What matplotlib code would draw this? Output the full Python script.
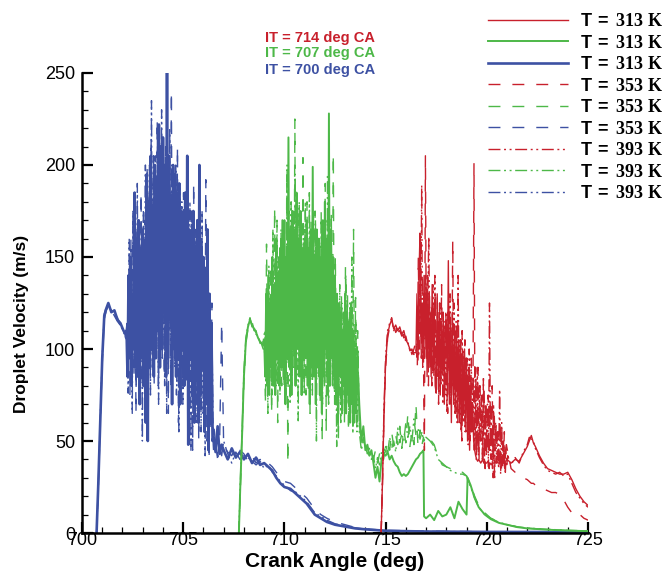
import numpy as np
import matplotlib
matplotlib.use("Agg")
import matplotlib.pyplot as plt

plt.rcParams['font.family'] = ['Liberation Sans', 'DejaVu Sans']
plt.rcParams['mathtext.fontset'] = 'custom'
plt.rcParams['mathtext.sf'] = 'Liberation Sans:bold'
plt.rcParams['mathtext.rm'] = 'Liberation Serif:bold'
plt.rcParams['lines.scale_dashes'] = False

# ---------------- data ----------------
temps = ["313", "353", "393"]

# Blue: IT = 700 deg CA
blue_rise_x = [700.72, 700.8, 700.9, 701.0, 701.1, 701.2, 701.3, 701.45, 701.6, 701.75, 701.9, 702.05, 702.15]
blue_rise_313 = [0, 25, 60, 95, 118, 122, 125, 120, 121, 116, 114, 110, 108]
blue_rise_353 = [0, 22, 58, 92, 116, 121, 123, 119, 119, 117, 112, 111, 106]
blue_rise_393 = [0, 24, 62, 96, 119, 123, 124, 121, 118, 115, 113, 109, 107]
blue_block_start = 702.2
blue_block_313 = [110, 85, 140, 95, 150, 80, 130, 100, 185, 90,
                  160, 85, 170, 70, 150, 95, 165, 80, 155, 60,
                  195, 50, 180, 90, 205, 100, 175, 85, 200, 95,
                  190, 110, 222, 90, 210, 100, 215, 120, 200, 85,
                  250, 95, 205, 120, 180, 70, 200, 100, 195, 85,
                  185, 95, 190, 70, 175, 100, 170, 80, 185, 90,
                  205, 48, 165, 95, 160, 75, 175, 60, 150, 85,
                  170, 60, 200, 75, 155, 90, 150, 55, 140, 70,
                  165, 45, 130, 60, 110, 50]
blue_block_353 = [105, 90, 145, 75, 160, 100, 175, 85, 140, 65,
                  165, 100, 150, 75, 185, 80, 160, 105, 170, 90,
                  200, 70, 185, 110, 215, 95, 190, 80, 205, 120,
                  225, 80, 200, 105, 190, 95, 215, 85, 205, 110,
                  210, 65, 195, 110, 240, 85, 180, 95, 200, 75,
                  210, 60, 185, 90, 170, 80, 185, 95, 175, 80,
                  185, 80, 160, 100, 175, 45, 190, 90, 165, 70,
                  165, 50, 180, 70, 160, 85, 145, 60, 192, 50,
                  150, 70, 120, 55, 125, 50]
blue_block_393 = [115, 76, 160, 100, 150, 65, 175, 90, 155, 80,
                  190, 90, 145, 80, 170, 50, 175, 95, 200, 85,
                  185, 110, 200, 75, 235, 90, 205, 95, 190, 100,
                  220, 70, 195, 115, 230, 100, 185, 80, 210, 65,
                  190, 110, 220, 80, 200, 110, 185, 90, 200, 80,
                  165, 55, 190, 95, 180, 70, 160, 95, 180, 85,
                  150, 95, 180, 45, 175, 85, 165, 70, 160, 60,
                  170, 80, 140, 55, 175, 65, 150, 42, 130, 75,
                  140, 42, 110, 58, 100, 48]
blue_tail_x = [706.5, 706.6, 706.7, 706.8, 706.9, 707.0, 707.2, 707.4, 707.6, 707.8, 708.0, 708.2, 708.4, 708.6,
               708.8, 709.0, 709.2, 709.4, 709.6, 709.8, 710.0, 710.3, 710.6, 710.9, 711.1, 711.3, 711.5, 711.8,
               712.1, 712.5, 713.0, 713.5, 714.0, 715.0, 717.0, 720.0, 725.0]
blue_tail_313 = [52, 44, 58, 43, 48, 45, 40, 46, 41, 44, 40, 43, 38, 41, 37, 38, 36, 34, 30, 27, 25, 24, 21, 18,
                 16, 13, 10, 8, 6, 4.5, 3.5, 2.5, 2, 1.2, 0.8, 0.6, 0.5]
blue_tail_353 = [60, 48, 42, 50, 114, 47, 44, 42, 47, 45, 43, 39, 42, 38, 40, 37, 38, 36, 33, 30, 28, 27, 24, 21,
                 19, 16, 13, 10, 8, 6, 4.5, 3, 2.2, 1.5, 1.0, 0.7, 0.5]
blue_tail_393 = [45, 50, 40, 46, 42, 50, 43, 38, 44, 40, 42, 41, 39, 37, 39, 35, 37, 33, 31, 28, 26, 23, 22, 19,
                 17, 14, 11, 9, 7, 5, 3.8, 2.8, 2.1, 1.3, 0.9, 0.6, 0.5]

# Green: IT = 707 deg CA
green_rise_x = [707.75, 707.82, 707.9, 708.0, 708.1, 708.2, 708.3, 708.4, 708.5, 708.6, 708.7, 708.8, 708.95]
green_rise_313 = [0, 25, 50, 85, 105, 112, 116, 113, 111, 109, 106, 104, 102]
green_rise_353 = [0, 22, 48, 82, 103, 111, 114, 115, 110, 110, 105, 105, 100]
green_rise_393 = [0, 27, 52, 88, 106, 113, 117, 112, 112, 108, 107, 103, 104]
green_block_start = 709.0
green_block_313 = [105, 85, 130, 80, 140, 75, 125, 90, 150, 80,
                   135, 75, 160, 95, 140, 80, 155, 90, 170, 85,
                   170, 70, 150, 95, 215, 90, 165, 75, 175, 100,
                   165, 80, 185, 100, 160, 85, 175, 75, 150, 95,
                   160, 95, 170, 80, 155, 70, 165, 90, 199, 85,
                   150, 70, 165, 90, 160, 75, 150, 65, 170, 85,
                   180, 100, 160, 75, 228, 80, 165, 95, 150, 85,
                   140, 70, 130, 60, 125, 85, 120, 65, 110, 80,
                   130, 65, 120, 75, 115, 60, 125, 70, 110, 60,
                   100, 65, 95]
green_block_353 = [100, 70, 157, 95, 130, 80, 145, 65, 120, 85,
                   177, 85, 145, 60, 150, 90, 135, 80, 160, 95,
                   150, 90, 190, 38, 175, 105, 160, 80, 175, 90,
                   225, 80, 160, 110, 175, 90, 155, 75, 204, 80,
                   165, 75, 180, 95, 155, 65, 170, 85, 160, 100,
                   175, 85, 160, 100, 145, 70, 175, 50, 160, 90,
                   190, 55, 170, 90, 160, 85, 175, 80, 206, 75,
                   151, 70, 125, 50, 115, 90, 130, 70, 120, 60,
                   145, 70, 130, 55, 120, 75, 110, 65, 165, 75,
                   128, 60, 110]
green_block_393 = [110, 80, 125, 65, 145, 95, 130, 75, 165, 100,
                   140, 80, 170, 85, 150, 75, 165, 95, 145, 80,
                   140, 75, 200, 95, 160, 70, 180, 85, 170, 95,
                   195, 90, 150, 61, 180, 100, 170, 80, 160, 75,
                   180, 100, 165, 78, 185, 90, 150, 75, 175, 85,
                   170, 50, 160, 85, 150, 95, 170, 70, 155, 80,
                   160, 85, 195, 70, 165, 95, 150, 80, 140, 70,
                   130, 47, 120, 70, 135, 60, 125, 75, 115, 65,
                   140, 80, 115, 65, 125, 70, 150, 54, 110, 70,
                   115, 55, 100]
green_tail_x = [713.7, 713.8, 713.9, 714.0, 714.1, 714.2, 714.3, 714.4, 714.5, 714.6, 714.7, 714.8, 714.9, 715.0,
                715.1, 715.2, 715.3, 715.4, 715.5, 715.6, 715.7, 715.8, 715.9, 716.0, 716.1, 716.2, 716.3, 716.4,
                716.5, 716.6, 716.7, 716.8, 716.87, 716.9, 717.0, 717.2, 717.4, 717.6, 717.8, 718.0, 718.2, 718.4,
                718.6, 718.8, 719.0, 719.05, 719.2, 719.4, 719.6, 719.9, 720.2, 720.6, 721.0, 721.5, 722.0, 723.0,
                724.0, 725.0]
green_tail_313 = [70, 50, 58, 45, 48, 42, 45, 38, 30, 36, 28, 40, 43, 42, 44, 40, 42, 39, 37, 36, 33, 31, 32, 31,
                  32, 34, 36, 38, 40, 41, 43, 44, 45, 9, 8, 10, 7, 12, 9, 10, 14, 8, 17, 13, 10, 30, 26, 19, 14,
                  10, 7.5, 5.5, 4.5, 3.2, 2.5, 1.8, 1.3, 1.0]
green_tail_353 = [60, 48, 52, 44, 47, 41, 44, 40, 45, 38, 43, 41, 46, 44, 50, 45, 55, 47, 53, 48, 58, 46, 56, 49,
                  65, 47, 55, 48, 70, 47, 56, 48, 52, 50, 53, 51, 48, 41, 37, 36, 35, 34, 33, 33, 31, 30, 26, 20,
                  15, 11, 8, 6, 4.5, 3.3, 2.6, 1.9, 1.4, 1.1]
green_tail_393 = [55, 45, 50, 47, 43, 46, 40, 42, 35, 41, 37, 44, 40, 47, 43, 52, 46, 50, 44, 57, 49, 54, 50, 60,
                  52, 58, 50, 62, 53, 57, 51, 55, 50, 52, 52, 50, 47, 40, 38, 36, 34, 33, 32, 32, 31, 29, 25, 19,
                  14, 10, 8, 5.8, 4.6, 3.4, 2.7, 2.0, 1.5, 1.1]

# Red: IT = 714 deg CA
red_rise_x = [714.78, 714.85, 714.92, 715.0, 715.1, 715.2, 715.3, 715.4, 715.5, 715.6, 715.7, 715.8, 715.9,
              716.0, 716.1, 716.2, 716.3, 716.4]
red_rise_313 = [0, 30, 65, 92, 108, 113, 116, 111, 113, 110, 112, 108, 110, 105, 103, 100, 99, 98]
red_rise_353 = [0, 28, 62, 90, 106, 112, 114, 113, 109, 111, 108, 110, 106, 107, 102, 101, 97, 100]
red_rise_393 = [0, 32, 68, 95, 110, 114, 117, 110, 112, 109, 110, 107, 108, 104, 104, 99, 100, 97]
red_block_start = 716.5
red_block_313 = [98, 130, 94, 140, 163, 100, 125, 95, 140, 100,
                 135, 85, 130, 90, 120, 85, 135, 90, 125, 80,
                 76, 130, 85, 120, 75, 115, 90, 120, 70, 110,
                 115, 80, 148, 70, 110, 60, 120, 75, 105, 70,
                 110, 75, 105, 60, 100, 55, 95, 65, 100, 60,
                 95, 50, 85, 45, 80, 55, 70, 50, 45, 42,
                 40, 39, 40, 39, 38, 39, 40, 38, 39, 38,
                 38, 39, 38, 37, 38, 37, 38, 38, 39, 38,
                 39, 38, 38, 39, 39, 40, 39, 40, 39, 39,
                 40]
red_block_353 = [105, 90, 150, 100, 130, 95, 140, 100, 45, 205,
                 95, 140, 80, 130, 90, 125, 85, 120, 90, 130,
                 90, 120, 70, 125, 80, 135, 85, 110, 75, 120,
                 110, 65, 125, 75, 115, 80, 159, 70, 110, 65,
                 115, 60, 100, 70, 105, 50, 95, 65, 105, 55,
                 95, 60, 90, 50, 85, 55, 80, 201, 45, 85,
                 45, 90, 40, 80, 50, 75, 40, 78, 35, 70,
                 45, 75, 35, 70, 40, 80, 30, 65, 45, 60,
                 40, 55, 35, 60, 33, 50, 38, 55, 33, 48,
                 45]
red_block_393 = [100, 120, 96, 135, 110, 189, 90, 130, 105, 140,
                 95, 125, 161, 100, 120, 80, 135, 85, 140, 90,
                 85, 115, 75, 125, 80, 120, 70, 115, 75, 120,
                 65, 120, 90, 130, 70, 110, 80, 125, 65, 115,
                 60, 140, 65, 105, 55, 110, 60, 100, 55, 95,
                 90, 48, 100, 55, 95, 58, 85, 45, 90, 40,
                 90, 42, 80, 50, 75, 40, 85, 38, 70, 42,
                 70, 36, 125, 45, 65, 35, 70, 29, 60, 38,
                 55, 35, 78, 32, 60, 36, 50, 34, 45, 36,
                 42]
red_tail_x = [721.2, 721.4, 721.6, 721.8, 722.0, 722.1, 722.2, 722.3, 722.4, 722.6, 722.8, 723.0, 723.2, 723.4,
              723.6, 723.8, 724.0, 724.2, 724.4, 724.6, 724.8, 725.0]
red_tail_313 = [38, 40, 39, 43, 47, 50, 53, 49, 47, 42, 38, 35, 34, 33, 32, 32, 33, 29, 24, 20, 17, 15]
red_tail_353 = [35, 33, 32, 30, 29, 28, 27, 27, 26, 25, 24, 23, 22, 22, 21, 18, 14, 11, 9, 10, 8, 7]
red_tail_393 = [37, 41, 38, 44, 48, 52, 51, 50, 46, 41, 37, 34, 33, 32, 33, 31, 32, 27, 22, 19, 16, 14]

annotations = ["IT = 714 deg CA", "IT = 707 deg CA", "IT = 700 deg CA"]

# ---------------- styling ----------------
RED, GREEN, BLUE = '#C8202C', '#4DB848', '#3D51A3'
STEP = 0.05
offsets = {"313": 0.0, "353": 0.017, "393": 0.033}
styles = {"313": dict(linestyle='-'),
          "353": dict(dashes=(8.6, 8.6)),
          "393": dict(dashes=(8.6, 2.6, 1.4, 2.6, 1.4, 2.6))}
solid_lw = {RED: 1.0, GREEN: 1.4, BLUE: 1.9}


def series(rise_x, rise_y, start, block_y, off, tail_x, tail_y):
    bx = [start + off + STEP * i for i in range(len(block_y))]
    return (np.array(list(rise_x) + bx + list(tail_x)),
            np.array(list(rise_y) + list(block_y) + list(tail_y), dtype=float))


groups = [
    (BLUE, blue_rise_x, [blue_rise_313, blue_rise_353, blue_rise_393], blue_block_start,
     [blue_block_313, blue_block_353, blue_block_393], blue_tail_x, [blue_tail_313, blue_tail_353, blue_tail_393]),
    (GREEN, green_rise_x, [green_rise_313, green_rise_353, green_rise_393], green_block_start,
     [green_block_313, green_block_353, green_block_393], green_tail_x, [green_tail_313, green_tail_353, green_tail_393]),
    (RED, red_rise_x, [red_rise_313, red_rise_353, red_rise_393], red_block_start,
     [red_block_313, red_block_353, red_block_393], red_tail_x, [red_tail_313, red_tail_353, red_tail_393]),
]

fig = plt.figure(figsize=(6.72, 5.76), dpi=100)
ax = fig.add_axes([82 / 672, 43 / 576, 506 / 672, 460 / 576])

handles = {}
for color, rx, rys, start, bys, tx, tys in groups:
    for k in [2, 1, 0]:
        t = temps[k]
        x, y = series(rx, rys[k], start, bys[k], offsets[t], tx, tys[k])
        lw = solid_lw[color] if t == "313" else 1.0
        ln, = ax.plot(x, y, color=color, lw=lw, **styles[t])
        handles[(color, t)] = ln

ax.set_xlim(700, 725)
ax.set_ylim(0, 250)
for s in ['top', 'right']:
    ax.spines[s].set_visible(False)
for s in ['left', 'bottom']:
    ax.spines[s].set_linewidth(1.8)
ax.set_xticks(np.arange(700, 726, 5))
ax.set_xticks(np.arange(700, 726, 1), minor=True)
ax.set_yticks(np.arange(0, 251, 50))
ax.set_yticks(np.arange(0, 251, 10), minor=True)
ax.tick_params(which='major', direction='in', length=8, width=1.6, labelsize=13)
ax.tick_params(axis='x', which='major', pad=-1)
ax.tick_params(axis='y', which='major', pad=5)
ax.tick_params(which='minor', direction='in', length=4.5, width=0.9)
ax.set_xlabel("Crank Angle (deg)", fontsize=15, fontweight='bold', va='center')
ax.set_ylabel("Droplet Velocity (m/s)", fontsize=12.5, fontweight='bold', va='center')
ax.xaxis.set_label_coords(0.499, -0.061)
ax.yaxis.set_label_coords(-0.1186, 0.454)

for txt, col, yp in zip(annotations, [RED, GREEN, BLUE], [37.7, 53.3, 70]):
    fig.text(320 / 672, 1 - yp / 576, txt, color=col, fontsize=10.5, fontweight='bold',
             ha='center', va='center')

order = [(RED, "313"), (GREEN, "313"), (BLUE, "313"),
         (RED, "353"), (GREEN, "353"), (BLUE, "353"),
         (RED, "393"), (GREEN, "393"), (BLUE, "393")]
labels = [r"$\mathsf{T\,=}$ " + t + " K" for _, t in order]
leg = fig.legend([handles[o] for o in order], labels, loc='upper left',
                 bbox_to_anchor=(488 / 672, 1 - 13 / 576), frameon=False, borderpad=0,
                 borderaxespad=0, handlelength=4.44, handletextpad=0.68, labelspacing=0.25,
                 prop={'family': 'Liberation Serif', 'weight': 'bold', 'size': 13})

fig.savefig("out.png", dpi=100)
